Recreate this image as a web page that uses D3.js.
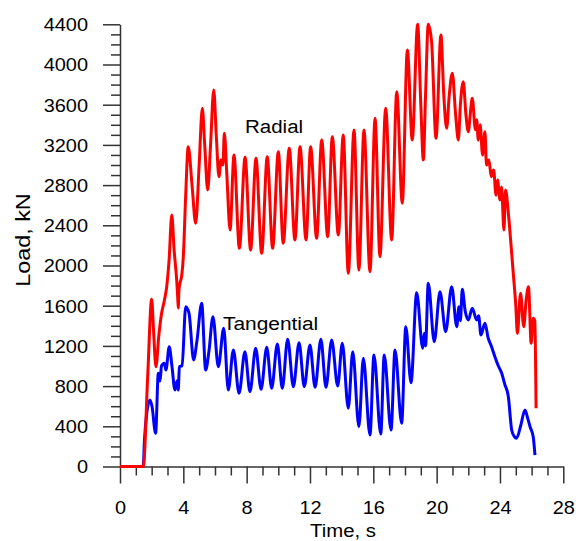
<!DOCTYPE html>
<html><head><meta charset="utf-8">
<script src="https://cdn.jsdelivr.net/npm/d3@7"></script>
<style>
body{margin:0;background:#fff}
svg text{font-family:"Liberation Sans",Arial,sans-serif;fill:#000}
</style>
</head><body>
<svg id="chart" width="582" height="541"></svg>
<script>
// ---- data ----
const radialTime = [0,1.47,1.75,2.0,2.12,2.27,2.45,2.63,2.8,2.95,3.1,3.27,3.42,3.58,3.64,3.68,3.72,3.79,3.9,4.0,4.15,4.31,4.55,4.78,5.0,5.2,5.35,5.54,5.72,5.92,6.08,6.25,6.38,6.5,6.59,6.75,6.95,7.2,7.54,7.9,8.25,8.59,8.95,9.3,9.64,10.0,10.31,10.69,11.05,11.37,11.75,12.04,12.42,12.74,13.12,13.41,13.79,14.1,14.42,14.78,15.09,15.41,15.79,16.11,16.42,16.78,17.16,17.48,17.83,18.15,18.46,18.8,19.0,19.16,19.3,19.47,19.68,19.96,20.27,20.45,20.63,20.8,20.99,21.2,21.37,21.5,21.68,21.85,22.0,22.12,22.25,22.45,22.53,22.63,22.75,22.9,23.05,23.15,23.3,23.45,23.6,23.75,23.85,24.0,24.1,24.25,24.35,24.55,24.7,24.84,25.0,25.1,25.3,25.5,25.65,25.8,25.97,26.1,26.2,26.28];
const radialLoad = [0,0,900,1664,1350,993,1300,1527,1650,1789,2050,2502,2150,1856,1700,1577,1750,1826,1900,2088,2700,3182,2800,2420,3000,3564,3200,2751,3200,3746,3300,2884,3050,3000,3315,2900,2353,3099,2171,3076,2154,3066,2121,3083,2171,3132,2221,3166,2254,3182,2254,3182,2270,3249,2287,3282,2303,3298,1922,3348,1955,3348,1938,3464,2088,3564,2254,3730,2619,4144,3249,4400,3600,3050,3700,4400,4227,3265,4293,3700,3365,3700,3912,3500,3249,3600,3829,3500,3331,3500,3664,3350,3450,3249,3400,3100,3331,3000,3050,2884,2950,2700,2850,2652,2780,2353,2751,2485,2200,1922,1600,1325,1723,1391,1650,1789,1226,1475,1450,579];

const tangentialTime = [0,1.47,1.54,1.69,1.89,2.02,2.25,2.42,2.53,2.62,2.8,2.9,3.11,3.28,3.47,3.6,3.68,3.75,3.92,4.15,4.36,4.65,4.86,5.16,5.41,5.62,5.87,6.21,6.55,6.84,7.16,7.52,7.89,8.21,8.57,8.91,9.27,9.58,9.94,10.25,10.59,10.95,11.31,11.64,12.0,12.32,12.69,13.01,13.37,13.75,14.04,14.42,14.7,15.09,15.37,15.79,16.04,16.47,16.69,17.12,17.37,17.79,18.05,18.38,18.74,19.12,19.22,19.3,19.47,19.85,20.21,20.57,20.95,21.27,21.41,21.5,21.62,21.8,22.0,22.25,22.53,22.65,22.8,23.05,23.26,23.45,23.68,23.9,24.11,24.3,24.53,24.74,24.9,25.05,25.3,25.58,25.75,25.9,26.1,26.21];
const tangentialLoad = [0,0,247,529,662,600,331,927,850,1000,1027,960,1192,1000,761,850,760,993,1000,1590,1524,1060,1250,1624,960,1150,1491,993,1375,761,1159,728,1142,744,1176,768,1186,778,1219,778,1266,794,1232,794,1209,788,1266,788,1259,801,1226,579,1142,396,1077,313,1109,323,1109,363,1159,430,1391,834,1729,1176,1325,1200,1823,1242,1740,1341,1789,1391,1590,1450,1763,1550,1458,1574,1458,1500,1308,1425,1276,1200,1093,1000,927,820,694,363,300,281,400,562,480,396,297,114];

const xTickLabels = [0,4,8,12,16,20,24,28];
const yTickLabels = [0,400,800,1200,1600,2000,2400,2800,3200,3600,4000,4400];
const seriesNames = ["Radial","Tangential"];
const xTitle = "Time, s";
const yTitle = "Load, kN";

// ---- drawing ----
const svg = d3.select("#chart");
const x = d3.scaleLinear().domain([0,28]).range([120,563.3]);
const y = d3.scaleLinear().domain([0,4400]).range([466.5,24.3]);
const axisColor = "#333";

const xMinor = d3.range(0,29,1).filter(v => v % 4 !== 0);
const yMinor = d3.range(0,4401,100).filter(v => v % 400 !== 0);

const gx = svg.append("g").attr("transform", `translate(0,${y(0)})`);
gx.call(d3.axisBottom(x).tickValues(xMinor).tickSize(9).tickSizeOuter(0).tickFormat(""));
gx.call(g => g.select(".domain").remove());
const gx2 = svg.append("g").attr("transform", `translate(0,${y(0)})`);
gx2.call(d3.axisBottom(x).tickValues(xTickLabels).tickSize(17).tickSizeOuter(0).tickFormat(d3.format("d")));

const gy = svg.append("g").attr("transform", `translate(${x(0)},0)`);
gy.call(d3.axisLeft(y).tickValues(yMinor).tickSize(9).tickSizeOuter(0).tickFormat(""));
gy.call(g => g.select(".domain").remove());
const gy2 = svg.append("g").attr("transform", `translate(${x(0)},0)`);
gy2.call(d3.axisLeft(y).tickValues(yTickLabels).tickSize(17).tickSizeOuter(0).tickFormat(d3.format("d")));

svg.selectAll(".tick line, .domain").attr("stroke", axisColor).attr("stroke-width", 1.5);

gx2.selectAll("text")
  .attr("y", 47.5).attr("dy", null)
  .attr("font-size", "17.5px")
  .attr("font-family", null)
  .attr("transform", "scale(1.14,1)");
gy2.selectAll("text")
  .attr("x", -32).attr("dy", "0.36em")
  .attr("font-size", "17.5px")
  .attr("font-family", null)
  .attr("transform", "translate(-32,0) scale(1.14,1) translate(32,0)");
svg.selectAll("g").attr("font-family", null).attr("font-size", null);

// series
const line = d3.line().x(d => x(d[0])).y(d => y(d[1])).curve(d3.curveMonotoneX);
const tangential = tangentialTime.map((t,i) => [t, tangentialLoad[i]]);
const radial = radialTime.map((t,i) => [t, radialLoad[i]]);
svg.append("path").datum(tangential).attr("d", line)
  .attr("fill","none").attr("stroke","#0000ff").attr("stroke-width",3).attr("stroke-linejoin","round");
svg.append("path").datum(radial).attr("d", line)
  .attr("fill","none").attr("stroke","#ff0000").attr("stroke-width",3).attr("stroke-linejoin","round");

// series labels
svg.append("text").text(seriesNames[0])
  .attr("x",245).attr("y",133.3).attr("font-size","19px")
  .attr("transform","translate(245,0) scale(1.08,1) translate(-245,0)");
svg.append("text").text(seriesNames[1])
  .attr("x",223).attr("y",330).attr("font-size","19px")
  .attr("transform","translate(223,0) scale(1.1,1) translate(-223,0)");

// axis titles
svg.append("text").text(xTitle)
  .attr("text-anchor","middle").attr("font-size","18.5px")
  .attr("transform","translate(343,536.7) scale(1.1,1)");
svg.append("text").text(yTitle)
  .attr("text-anchor","middle").attr("font-size","21px")
  .attr("transform","translate(29.5,240) rotate(-90) scale(1.11,1)");
</script>
</body></html>
